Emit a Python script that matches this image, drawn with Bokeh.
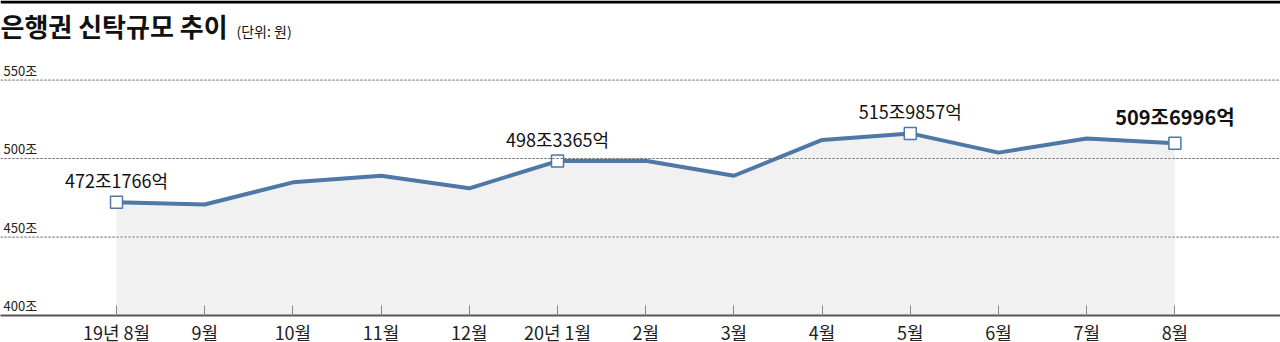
from bokeh.plotting import figure
from bokeh.models import Span, FixedTicker, Range1d
from bokeh.core.properties import value
from bokeh.embed import file_html
from bokeh.resources import INLINE

# ---- data ----
months = ["19년 8월", "9월", "10월", "11월", "12월", "20년 1월", "2월",
          "3월", "4월", "5월", "6월", "7월", "8월"]
trust = [472.18, 470.7, 484.8, 489.0, 481.0, 498.34, 498.6,
         489.0, 511.8, 515.99, 503.75, 512.8, 509.70]
callout_idx = [0, 5, 9]
callout_text = ["472조1766억", "498조3365억", "515조9857억"]
last_idx = 12
last_text = "509조6996억"
y_ticks = [400, 450, 500, 550]
y_tick_labels = ["400조", "450조", "500조", "550조"]
title_text = "은행권 신탁규모 추이"
unit_text = "(단위: 원)"

# ---- layout helpers (pixels -> data) ----
FW, FH = 1280, 315
X0PX, DX = 116.0, 88.2
PPU = 1.57
x_start = -X0PX / DX
x_end = x_start + FW / DX
y_start = 400.0
y_end = y_start + FH / PPU

def px_x(px):
    return x_start + px / DX

def px_y(py):
    return y_end - py / PPU

FONT = "Noto Sans CJK KR"
LINE_C = "#4e78a5"

p = figure(frame_width=FW, frame_height=FH, output_backend="svg",
           toolbar_location=None, y_axis_location=None,
           x_range=Range1d(x_start, x_end), y_range=Range1d(y_start, y_end),
           min_border=0, min_border_left=0, min_border_right=0,
           min_border_top=0, min_border_bottom=0)
p.outline_line_color = None
p.xgrid.visible = False
p.background_fill_color = "white"
p.border_fill_color = "white"

xs = list(range(len(months)))

# grid lines
for v in y_ticks[1:]:
    p.add_layout(Span(location=v, dimension="width", line_color="#666666",
                      line_width=1, line_dash="2 2"))
# top black rule
p.add_layout(Span(location=px_y(1.5), dimension="width", line_color="black",
                  line_width=3))

# area + line + markers
p.varea(x=xs, y1=[y_start] * len(xs), y2=trust, fill_color="#f1f1f1")
p.line(xs, trust, line_color=LINE_C, line_width=4, line_join="round")
mk = callout_idx + [last_idx]
p.scatter([xs[i] for i in mk], [trust[i] for i in mk], marker="square",
          size=12, fill_color="white", line_color=LINE_C, line_width=1.5)

# callouts
p.text(x=[xs[i] for i in callout_idx],
       y=[trust[i] + 22 / PPU for i in callout_idx],
       text=callout_text, text_align="center", text_baseline="alphabetic",
       text_font=value(FONT), text_font_size="18px", text_color="#111111")
p.text(x=[xs[last_idx]], y=[trust[last_idx] + 27 / PPU], text=[last_text],
       text_align="center", text_baseline="alphabetic",
       text_font=value(FONT), text_font_size="20px",
       text_font_style="bold", text_color="#111111")

# y labels
p.text(x=[px_x(3)] * len(y_ticks), y=[v + 10 / PPU for v in y_ticks],
       text=y_tick_labels, text_align="left", text_baseline="alphabetic",
       text_font=value(FONT), text_font_size="13px", text_color="#222222")

# title
p.text(x=[px_x(0)], y=[px_y(25)], text=[title_text], text_align="left",
       text_baseline="alphabetic", text_font=value(FONT),
       text_font_size="26px", text_font_style="bold", text_color="#111111")
p.text(x=[px_x(236)], y=[px_y(30)], text=[unit_text], text_align="left",
       text_baseline="alphabetic", text_font=value(FONT),
       text_font_size="14px", text_color="#111111")

# x axis
ax = p.xaxis[0]
ax.ticker = FixedTicker(ticks=xs)
ax.major_label_overrides = {i: m for i, m in enumerate(months)}
ax.axis_line_color = "#555555"
ax.axis_line_width = 2
ax.major_tick_in = 10
ax.major_tick_out = 0
ax.major_tick_line_color = "#888888"
ax.minor_tick_line_color = None
ax.major_label_standoff = 3
ax.major_label_text_font = FONT
ax.major_label_text_font_size = "18px"
ax.major_label_text_color = "#222222"

open("out.html", "w").write(file_html(p, INLINE))
